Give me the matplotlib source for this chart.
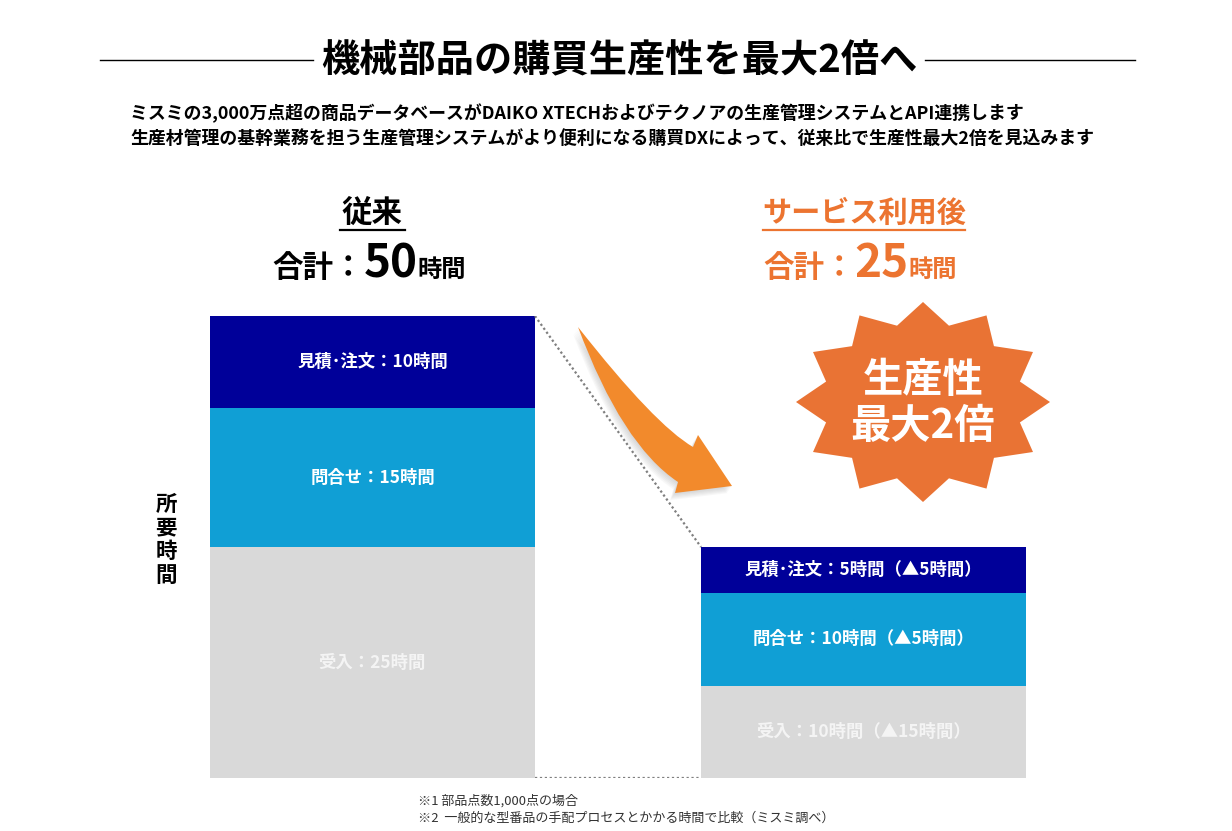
import numpy as np
import matplotlib
matplotlib.use("Agg")
import matplotlib.pyplot as plt
from matplotlib.path import Path
from matplotlib.patches import PathPatch, Polygon

plt.rcParams['font.family'] = ['Noto Sans CJK JP', 'DejaVu Sans']

# ------------------------------------------------------------------
# Data
# ------------------------------------------------------------------
stages = ["受入", "問合せ", "見積･注文"]          # bottom -> top
before_hours = [25, 15, 10]
after_hours = [10, 10, 5]
saved_hours = [15, 5, 5]
seg_colors = ["#D9D9D9", "#109FD5", "#000099"]
label_colors = ["#F4F4F4", "white", "white"]

title = "機械部品の購買生産性を最大2倍へ"
subtitle = ["ミスミの3,000万点超の商品データベースがDAIKO XTECHおよびテクノアの生産管理システムとAPI連携します",
            "生産材管理の基幹業務を担う生産管理システムがより便利になる購買DXによって、従来比で生産性最大2倍を見込みます"]
footnotes = ["※1 部品点数1,000点の場合",
             "※2  一般的な型番品の手配プロセスとかかる時間で比較（ミスミ調べ）"]

ORANGE = "#EC7430"
W, H = 1232, 831

fig = plt.figure(figsize=(W / 100, H / 100), dpi=100)

# ------------------------------------------------------------------
# Bars: axes placed so that 0h sits at y=778px and 50h at y=316px
# ------------------------------------------------------------------
bar_w = 325 / 491
ax = fig.add_axes([0, (H - 778) / H, 1, 462 / H])
ax.set_xlim(-372.5 / 491, (W - 372.5) / 491)
ax.set_ylim(0, 50)
ax.axis("off")

for xpos, hours, saved in [(0, before_hours, None), (1, after_hours, saved_hours)]:
    bottom = 0
    for i, h in enumerate(hours):
        ax.bar(xpos, h, bottom=bottom, width=bar_w, color=seg_colors[i], lw=0)
        txt = f"{stages[i]}：{h}時間"
        if saved is not None:
            txt += f"（▲{saved[i]}時間）"
        ax.text(xpos, bottom + h / 2, txt, ha="center", va="center",
                color=label_colors[i], fontsize=12.5, fontweight="bold")
        bottom += h

# dotted connectors
tot_b, tot_a = sum(before_hours), sum(after_hours)
ax.plot([bar_w / 2, 1 - bar_w / 2], [tot_b, tot_a], ls=(0, (1, 1.2)), color="#7F7F7F", lw=1.6)
ax.plot([bar_w / 2, 1 - bar_w / 2], [0, 0], ls=(0, (1, 1.2)), color="#7F7F7F", lw=1.6)

# ------------------------------------------------------------------
# Overlay axes in pixel units for headings and decorations
# ------------------------------------------------------------------
ov = fig.add_axes([0, 0, 1, 1], zorder=3)
ov.set_xlim(0, W)
ov.set_ylim(H, 0)
ov.axis("off")

ov.text(619, 61, title, ha="center", va="center", fontsize=27.5, fontweight="bold", color="black")
ov.plot([100, 313], [60, 60], color="black", lw=1)
ov.plot([925, 1135], [60, 60], color="black", lw=1)
ov.text(130, 113, subtitle[0], ha="left", va="center", fontsize=12.9, fontweight="bold")
ov.text(130, 139, subtitle[1], ha="left", va="center", fontsize=12.9, fontweight="bold")

# column headings
ov.text(372, 213, "従来", ha="center", va="center", fontsize=22, fontweight="bold", color="black")
ov.plot([340, 405], [230, 230], color="black", lw=1.6)
ov.text(864, 213, "サービス利用後", ha="center", va="center", fontsize=21, fontweight="bold", color=ORANGE)
ov.plot([763, 965], [230, 230], color=ORANGE, lw=1.6)

# "合計：NN時間" built from pieces of different sizes on one baseline
renderer = fig.canvas.get_renderer()
for left, total, col in [(272, tot_b, "black"), (763, tot_a, ORANGE)]:
    x0 = left
    for s, fs in [("合計：", 22), (str(total), 33), ("時間", 17.5)]:
        t = ov.text(x0, 277, s, ha="left", va="baseline", fontsize=fs,
                    fontweight="bold", color=col)
        bb = t.get_window_extent(renderer)
        x0 += bb.width * W / fig.bbox.width

# vertical axis caption
ov.text(166, 540, "所\n要\n時\n間", ha="center", va="center", fontsize=15.5,
        fontweight="bold", linespacing=1.15)

# footnotes
ov.text(418, 801, footnotes[0], ha="left", va="center", fontsize=9.4, color="#333333")
ov.text(418, 818, footnotes[1], ha="left", va="center", fontsize=9.4, color="#333333")

# curved arrow
def arrow_path(dx=0, dy=0):
    pts = [(578, 327), (655, 425), (693, 447), (698, 435), (732, 486),
           (675, 493), (678, 482), (622, 445), (578, 327)]
    codes = [Path.MOVETO, Path.CURVE3, Path.CURVE3, Path.LINETO, Path.LINETO,
             Path.LINETO, Path.LINETO, Path.CURVE3, Path.CURVE3]
    return Path([(x + dx, y + dy) for x, y in pts], codes)

for k in range(1, 7):
    ov.add_patch(PathPatch(arrow_path(-k * 0.8, k * 1.2), fc="#9A9A9A", ec="none", alpha=0.07))
ov.add_patch(PathPatch(arrow_path(), fc="#F28A2C", ec="none"))

# starburst
cx, cy, rx, ry = 923, 402, 127, 100
n = 12
ang = np.pi / 2 + np.arange(2 * n) * np.pi / n
rad = np.where(np.arange(2 * n) % 2 == 0, 1.0, 0.79)
star = np.column_stack([cx + rx * rad * np.cos(ang), cy - ry * rad * np.sin(ang)])
ov.add_patch(Polygon(star, closed=True, fc="#E97334", ec="none"))
ov.text(cx, 381, "生産性", ha="center", va="center", fontsize=29, fontweight="bold", color="white")
ov.text(cx, 427, "最大2倍", ha="center", va="center", fontsize=29, fontweight="bold", color="white")

fig.savefig("out.png", dpi=100)
